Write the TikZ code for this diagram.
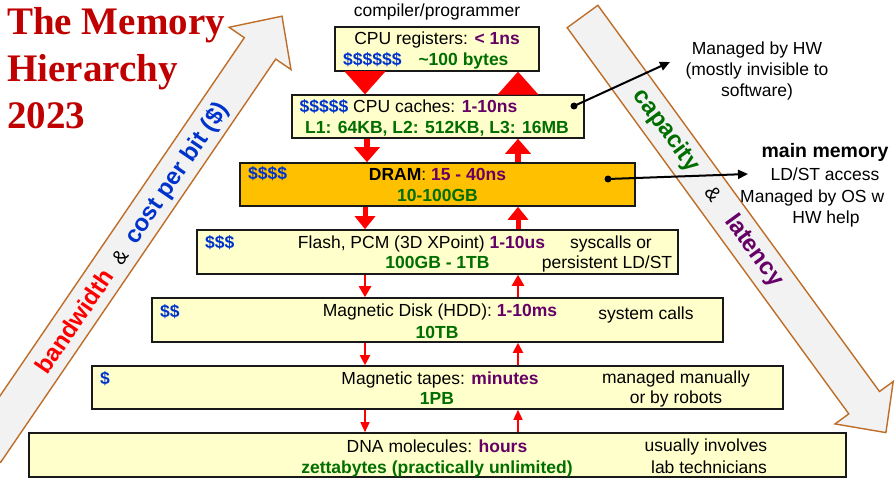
\documentclass[tikz,border=0pt]{standalone}
\usepackage{fontspec}
\setmainfont{Liberation Sans}
\newfontfamily\titlefont{Liberation Serif}
\usetikzlibrary{arrows.meta}
\definecolor{boxyellow}{RGB}{255,255,204}
\definecolor{dramorange}{RGB}{255,192,0}
\definecolor{dollarblue}{RGB}{0,51,204}
\definecolor{latpurple}{RGB}{102,0,102}
\definecolor{capgreen}{RGB}{0,110,0}
\definecolor{titlered}{RGB}{192,0,0}
\definecolor{arrowbrown}{RGB}{190,110,40}
\definecolor{arrowgray}{RGB}{242,242,242}
\newcommand{\dol}[1]{\textcolor{dollarblue}{\bfseries #1}}
\newcommand{\latv}[1]{\textcolor{latpurple}{\bfseries #1}}
\newcommand{\capv}[1]{\textcolor{capgreen}{\bfseries #1}}
\newcommand{\amp}{\textcolor{black}{\mdseries\fontsize{20}{24}\selectfont\&}}
\begin{document}
\begin{tikzpicture}[x=1pt,y=-1pt,
  levelbox/.style={draw=black!90, line width=1.6pt, fill=boxyellow, inner sep=0pt},
  txt/.style={inner sep=0pt, anchor=base, font=\fontsize{17.5}{21}\selectfont},
  txtl/.style={txt, anchor=base west},
  titletxt/.style={inner sep=0pt, anchor=base west, text=titlered, font=\titlefont\bfseries\fontsize{39}{47}\selectfont},
  bigarrow/.style={draw=arrowbrown, line width=1.4pt, fill=arrowgray, line join=miter},
  difflabel/.style={inner sep=0pt, font=\fontsize{24}{28}\selectfont\bfseries},
  arrA/.style={draw=red, line width=6pt, -{Triangle[width=25pt,length=15pt]}},
  arrB/.style={draw=red, line width=5pt, -{Triangle[width=20pt,length=13pt]}},
  arrC/.style={draw=red, line width=2.5pt, -{Triangle[width=12pt,length=11pt]}},
  arrD/.style={draw=red, line width=2pt, -{Triangle[width=10pt,length=10pt]}},
  arrE/.style={draw=red, line width=1.5pt, -{Triangle[width=9pt,length=10pt]}},
  tri/.style={draw=red, fill=red, line width=0.1pt, -{Triangle[width=41pt,length=23pt]}},
  note/.style={draw=black, line width=2pt, -{Triangle[width=9pt,length=10pt]}}
]
\useasboundingbox (0,0) rectangle (895,484);
\clip (0,0) rectangle (895,484);
\fill[white] (0,0) rectangle (895,484);

% title
\node[titletxt] (title1) at (7,35) {The Memory};
\node[titletxt] (title2) at (7,82) {Hierarchy};
\node[titletxt] (title3) at (7,129) {2023};

% big diagonal arrows
\begin{scope}[shift={(-3.7,435)}, rotate=55.7]
  \path[bigarrow] (-20,-19) -- (468,-19) -- (468,-37.5) -- (507,0) -- (468,37.5) -- (468,19) -- (-20,19) -- cycle;
\end{scope}
\begin{scope}[shift={(582.5,16.5)}, rotate=-53.9]
  \path[bigarrow] (0,-19) -- (478,-19) -- (478,-36) -- (515,0) -- (478,36) -- (478,19) -- (0,19) -- cycle;
\end{scope}
\node[difflabel, rotate=55.7] (bwlabel) at (133,239)
  {\textcolor{red}{bandwidth}\hspace{12pt}\amp\hspace{12pt}\textcolor{dollarblue}{cost per bit (\$)}};
\node[difflabel, rotate=-53.9] (caplabel) at (708,188)
  {\textcolor{capgreen}{capacity}\hspace{24pt}\amp\hspace{22pt}\textcolor{latpurple}{latency}};

% level boxes
\node[levelbox, minimum width=204pt, minimum height=44pt] (reg) at (437,49) {};
\node[levelbox, minimum width=292pt, minimum height=43pt] (cache) at (438,116.5) {};
\node[levelbox, fill=dramorange, minimum width=395pt, minimum height=43pt] (dram) at (437.5,184.5) {};
\node[levelbox, minimum width=481pt, minimum height=44pt] (flash) at (437.5,252) {};
\node[levelbox, minimum width=571pt, minimum height=44pt] (hdd) at (437.5,320) {};
\node[levelbox, minimum width=691pt, minimum height=43pt] (tape) at (437.5,387.5) {};
\node[levelbox, minimum width=817pt, minimum height=44pt] (dna) at (437.5,455) {};

% texts
\node[txt] (comp) at (437,17) {compiler/programmer};
\node[txt] (reg1) at (437,45) {CPU registers: \latv{< 1ns}};
\node[txtl] (reg2a) at (343,66) {\dol{\$\$\$\$\$\$}};
\node[txt] (reg2b) at (463.5,66) {\capv{\textasciitilde100 bytes}};

\node[txt] (cache1) at (408.5,113) {\dol{\$\$\$\$\$} CPU caches: \latv{1-10ns}};
\node[txt] (cache2) at (437,134) {\capv{L1: 64KB, L2: 512KB, L3: 16MB}};

\node[txtl] (dram0) at (248,180) {\dol{\$\$\$\$}};
\node[txt] (dram1) at (437.5,181) {\textbf{DRAM}: \latv{15 - 40ns}};
\node[txt] (dram2) at (437.5,202) {\capv{10-100GB}};

\node[txtl] (flash0) at (205,248) {\dol{\$\$\$}};
\node[txt] (flash1) at (421.5,248) {Flash, PCM (3D XPoint) \latv{1-10us}};
\node[txt] (flash2) at (437.5,269) {\capv{100GB - 1TB}};
\node[txt] (flash3) at (611,248) {syscalls or};
\node[txt] (flash4) at (607,269) {persistent LD/ST};

\node[txtl] (hdd0) at (160,317) {\dol{\$\$}};
\node[txt] (hdd1) at (440,316) {Magnetic Disk (HDD): \latv{1-10ms}};
\node[txt] (hdd2) at (437,338) {\capv{10TB}};
\node[txt] (hdd3) at (646,319) {system calls};

\node[txtl] (tape0) at (100,384) {\dol{\$}};
\node[txt] (tape1) at (440,384) {Magnetic tapes: \latv{minutes}};
\node[txt] (tape2) at (437,404) {\capv{1PB}};
\node[txt] (tape3) at (676,383) {managed manually};
\node[txt] (tape4) at (676,403) {or by robots};

\node[txt] (dna1) at (437,452) {DNA molecules: \latv{hours}};
\node[txt] (dna2) at (437,473) {\capv{zettabytes (practically unlimited)}};
\node[txt] (dna3) at (706,451) {usually involves};
\node[txt] (dna4) at (709,473) {lab technicians};

% right notes
\node[txt] (hw1) at (757,55) {Managed by HW};
\node[txt] (hw2) at (757,76) {(mostly invisible to};
\node[txt] (hw3) at (757,97) {software)};
\node[txt, font=\fontsize{19.5}{23}\selectfont\bfseries] (mm1) at (825,158) {main memory};
\node[txt] (mm2) at (825,181) {LD/ST access};
\node[txtl] (mm3) at (740,203) {Managed by OS w};
\node[txt] (mm4) at (826,223) {HW help};

% red arrows
\coordinate (cL) at (365,0);
\coordinate (cR) at (518,0);
\path[tri] (cL |- reg.south) -- (cL |- cache.north);
\path[tri] (cR |- cache.north) -- (cR |- reg.south);
\draw[arrA] ([xshift=2pt]cL |- cache.south) -- ([xshift=2pt]cL |- dram.north);
\draw[arrA] (cR |- dram.north) -- (cR |- cache.south);
\draw[arrB] (cL |- dram.south) -- (cL |- flash.north);
\draw[arrB] (cR |- flash.north) -- (cR |- dram.south);
\draw[arrC] (cL |- flash.south) -- (cL |- hdd.north);
\draw[arrC] (cR |- hdd.north) -- (cR |- flash.south);
\draw[arrD] (cL |- hdd.south) -- (cL |- tape.north);
\draw[arrD] (cR |- tape.north) -- (cR |- hdd.south);
\draw[arrE] (cL |- tape.south) -- (cL |- dna.north);
\draw[arrE] (cR |- dna.north) -- (cR |- tape.south);

% note arrows
\coordinate (cachedot) at (574,106);
\coordinate (hwend) at (670,62);
\coordinate (dramdot) at (608,179);
\coordinate (mmend) at (748,174);
\fill (cachedot) circle (3.5pt);
\fill (dramdot) circle (3.5pt);
\draw[note] (cachedot) -- (hwend);
\draw[note] (dramdot) -- (mmend);
\end{tikzpicture}
\end{document}
